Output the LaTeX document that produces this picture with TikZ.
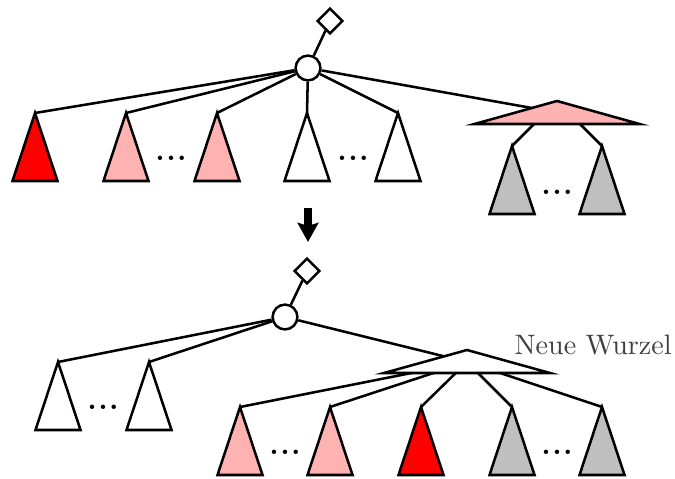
\documentclass[tikz,border=0pt]{standalone}
\usetikzlibrary{arrows.meta}
\begin{document}
\begin{tikzpicture}[
  x=5mm, y=5mm, line width=0.9pt,
  root/.style={draw=black,circle,fill=white,minimum size=3.1mm,inner sep=0pt},
  ptr/.style={draw=black,fill=white,rotate=45,minimum size=2.2mm,inner sep=0pt},
  dots/.style={font=\bfseries},
  edge/.style={draw=black},
  sub/.style={draw=black},
  big/.style={draw=black,-{Stealth[length=2.4mm,width=2.6mm,inset=0.4mm]},line width=0.9mm}
]
  \useasboundingbox (0,0) rectangle (16.875,11.95);

  % vorher
  \node[root] (r1) at (7.7, 10.25) {};
  \node[ptr]  (d1) at (8.25, 11.425) {};

  \coordinate (a1) at (0.875, 9.125);
  \coordinate (a2) at (3.15, 9.125);
  \coordinate (a3) at (5.425, 9.125);
  \coordinate (a4) at (7.675, 9.125);
  \coordinate (a5) at (9.95, 9.125);

  \coordinate (f1) at (13.925, 9.425);
  \coordinate (c1) at (13.925, 9.1375);
  \coordinate (g1) at (12.8, 8.3);
  \coordinate (g2) at (15.05, 8.3);

  \node[dots] (u1) at (4.275, 8.0) {.\kern0.7pt.\kern0.7pt.};
  \node[dots] (u2) at (8.825, 8.0) {.\kern0.7pt.\kern0.7pt.};
  \node[dots] (u3) at (13.925, 7.15) {.\kern0.7pt.\kern0.7pt.};

  \draw[edge] (r1) -- (d1);
  \draw[edge] (r1) -- (a1);
  \draw[edge] (r1) -- (a2);
  \draw[edge] (r1) -- (a3);
  \draw[edge] (r1) -- (a4);
  \draw[edge] (r1) -- (a5);
  \draw[edge] (r1) -- (c1);
  \draw[edge] (f1) -- (g1);
  \draw[edge] (f1) -- (g2);

  \draw[sub,fill=red]    (a1) -- ++(-0.5625,-1.7) -- ++(1.125,0) -- cycle;
  \draw[sub,fill=red!30] (a2) -- ++(-0.5625,-1.7) -- ++(1.125,0) -- cycle;
  \draw[sub,fill=red!30] (a3) -- ++(-0.5625,-1.7) -- ++(1.125,0) -- cycle;
  \draw[sub,fill=white]  (a4) -- ++(-0.5625,-1.7) -- ++(1.125,0) -- cycle;
  \draw[sub,fill=white]  (a5) -- ++(-0.5625,-1.7) -- ++(1.125,0) -- cycle;
  \draw[sub,fill=red!30] (f1) -- ++(-2.0625,-0.575) -- ++(4.125,0) -- cycle;
  \draw[sub,fill=black!25] (g1) -- ++(-0.5625,-1.7) -- ++(1.125,0) -- cycle;
  \draw[sub,fill=black!25] (g2) -- ++(-0.5625,-1.7) -- ++(1.125,0) -- cycle;

  % Pfeil
  \coordinate (p0) at (7.7, 6.75);
  \coordinate (p1) at (7.7, 5.9);
  \draw[big] (p0) -- (p1);

  % nachher
  \node[root] (r2) at (7.125, 4.025) {};
  \node[ptr]  (d2) at (7.675, 5.175) {};

  \coordinate (b1) at (1.45, 2.9);
  \coordinate (b2) at (3.725, 2.9);

  \coordinate (n2) at (11.675, 3.2);
  \coordinate (c2) at (11.675, 2.9);

  \coordinate (b3) at (6.0, 1.775);
  \coordinate (b4) at (8.25, 1.775);
  \coordinate (b5) at (10.525, 1.775);
  \coordinate (b6) at (12.8, 1.775);
  \coordinate (b7) at (15.05, 1.775);

  \node[dots] (u4) at (2.575, 1.775) {.\kern0.7pt.\kern0.7pt.};
  \node[dots] (u5) at (7.125, 0.65) {.\kern0.7pt.\kern0.7pt.};
  \node[dots] (u6) at (13.925, 0.65) {.\kern0.7pt.\kern0.7pt.};

  \node[anchor=base west,text=black!75] (nw) at (12.6, 3.1) {Neue Wurzel};

  \draw[edge] (r2) -- (d2);
  \draw[edge] (r2) -- (b1);
  \draw[edge] (r2) -- (b2);
  \draw[edge] (r2) -- (c2);
  \draw[edge] (c2) -- (b3);
  \draw[edge] (c2) -- (b4);
  \draw[edge] (c2) -- (b5);
  \draw[edge] (c2) -- (b6);
  \draw[edge] (c2) -- (b7);

  \draw[sub,fill=white]  (b1) -- ++(-0.5625,-1.7) -- ++(1.125,0) -- cycle;
  \draw[sub,fill=white]  (b2) -- ++(-0.5625,-1.7) -- ++(1.125,0) -- cycle;
  \draw[sub,fill=white]  (n2) -- ++(-2.075,-0.575) -- ++(4.15,0) -- cycle;
  \draw[sub,fill=red!30] (b3) -- ++(-0.5625,-1.7) -- ++(1.125,0) -- cycle;
  \draw[sub,fill=red!30] (b4) -- ++(-0.5625,-1.7) -- ++(1.125,0) -- cycle;
  \draw[sub,fill=red]    (b5) -- ++(-0.5625,-1.7) -- ++(1.125,0) -- cycle;
  \draw[sub,fill=black!25] (b6) -- ++(-0.5625,-1.7) -- ++(1.125,0) -- cycle;
  \draw[sub,fill=black!25] (b7) -- ++(-0.5625,-1.7) -- ++(1.125,0) -- cycle;
\end{tikzpicture}
\end{document}
